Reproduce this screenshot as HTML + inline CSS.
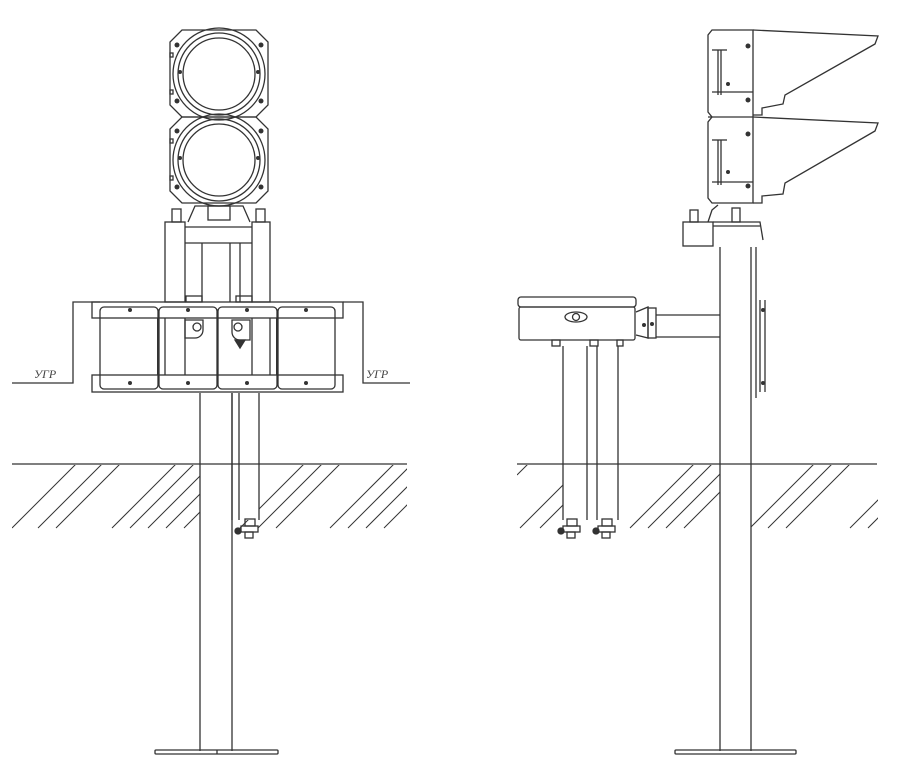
<!DOCTYPE html>
<html><head><meta charset="utf-8"><style>
html,body{margin:0;padding:0;background:#fff;}
svg{display:block;}
</style></head><body>
<svg width="900" height="779" viewBox="0 0 900 779" xmlns="http://www.w3.org/2000/svg" fill="none" stroke="#333" stroke-width="1.3">
<defs>
<clipPath id="hl"><rect x="12" y="465" width="395" height="64"/></clipPath>
<clipPath id="hr"><rect x="517" y="465" width="361" height="64"/></clipPath>
</defs>

<!-- ===== LEFT VIEW ===== -->
<!-- ground line -->
<line x1="12" y1="464" x2="407" y2="464"/>
<g clip-path="url(#hl)" stroke-width="1">
<line x1="12" y1="528" x2="76" y2="464"/><line x1="38" y1="528" x2="102" y2="464"/><line x1="56" y1="528" x2="120" y2="464"/>
<line x1="112" y1="528" x2="176" y2="464"/><line x1="130" y1="528" x2="194" y2="464"/><line x1="148" y1="528" x2="212" y2="464"/><line x1="166" y1="528" x2="230" y2="464"/><line x1="184" y1="528" x2="248" y2="464"/>
<line x1="240" y1="528" x2="304" y2="464"/><line x1="258" y1="528" x2="322" y2="464"/><line x1="276" y1="528" x2="340" y2="464"/>
<line x1="330" y1="528" x2="394" y2="464"/><line x1="348" y1="528" x2="412" y2="464"/><line x1="366" y1="528" x2="430" y2="464"/><line x1="384" y1="528" x2="448" y2="464"/>
</g>
<!-- white out pole & conduit region of hatch -->
<rect x="200" y="465" width="32" height="64" fill="#fff" stroke="none"/>
<rect x="232" y="465" width="27" height="55" fill="#fff" stroke="none"/>

<!-- pole -->
<line x1="200" y1="393" x2="200" y2="751"/><line x1="232" y1="393" x2="232" y2="751"/>
<rect x="155" y="750" width="123" height="4" rx="1"/>
<line x1="217" y1="750" x2="217" y2="754"/>
<!-- conduit -->
<line x1="239" y1="393" x2="239" y2="520"/><line x1="259" y1="393" x2="259" y2="520"/>
<line x1="232" y1="393" x2="232" y2="520"/>
<rect x="245" y="519" width="10" height="7"/><rect x="241" y="526" width="17" height="6"/><rect x="245" y="532" width="8" height="6"/>
<circle cx="238" cy="531" r="3" fill="#333"/>

<!-- wall step -->
<polyline points="12,383 73,383 73,302 100,302"/>
<polyline points="343,302 363,302 363,383 410,383"/>
<text x="34" y="378" font-family="Liberation Serif, serif" font-style="italic" font-size="12" fill="#444" stroke="none">УГР</text>
<text x="366" y="378" font-family="Liberation Serif, serif" font-style="italic" font-size="12" fill="#444" stroke="none">УГР</text>

<!-- box assembly -->
<rect x="92" y="302" width="251" height="16"/>
<rect x="92" y="375" width="251" height="17"/>
<rect x="100" y="307" width="58" height="82" rx="4"/>
<rect x="159" y="307" width="58" height="82" rx="4"/>
<rect x="218" y="307" width="59" height="82" rx="4"/>
<rect x="278" y="307" width="57" height="82" rx="4"/>
<g fill="#333" stroke="none">
<circle cx="130" cy="310" r="2"/><circle cx="188" cy="310" r="2"/><circle cx="247" cy="310" r="2"/><circle cx="306" cy="310" r="2"/>
<circle cx="130" cy="383" r="2"/><circle cx="188" cy="383" r="2"/><circle cx="247" cy="383" r="2"/><circle cx="306" cy="383" r="2"/>
</g>
<line x1="165" y1="318" x2="165" y2="375"/><line x1="185" y1="318" x2="185" y2="375"/>
<line x1="252" y1="318" x2="252" y2="375"/><line x1="270" y1="318" x2="270" y2="375"/>
<path d="M185,320 h18 v10 a8,8 0 0 1 -8,8 h-10 z"/>
<circle cx="197" cy="327" r="4"/>
<path d="M232,320 h18 v20 h-10 a8,8 0 0 1 -8,-8 z"/>
<circle cx="238" cy="327" r="4"/>
<path d="M235,340 h10 l-5,8 z" fill="#333"/>
<line x1="158" y1="318" x2="158" y2="375" stroke-width="2"/>
<line x1="277" y1="318" x2="277" y2="375" stroke-width="2"/>

<!-- support columns -->
<rect x="165" y="222" width="20" height="80"/>
<rect x="252" y="222" width="18" height="80"/>
<line x1="185" y1="227" x2="252" y2="227"/><line x1="185" y1="243" x2="252" y2="243"/>
<line x1="202" y1="243" x2="202" y2="302"/><line x1="230" y1="243" x2="230" y2="302"/><line x1="240" y1="243" x2="240" y2="302"/>
<rect x="186" y="296" width="16" height="6"/><rect x="236" y="296" width="16" height="6"/>
<!-- base bracket -->
<path d="M188,222 L195,206 L243,206 L250,222"/>
<rect x="208" y="206" width="22" height="14"/>
<rect x="172" y="209" width="9" height="13"/><rect x="256" y="209" width="9" height="13"/>

<!-- signal heads -->
<g>
<path d="M182,30 L256,30 L268,42 L268,105 L256,117 L182,117 L170,105 L170,42 Z"/>
<circle cx="219" cy="74" r="46"/>
<circle cx="219" cy="74" r="41"/>
<circle cx="219" cy="74" r="36"/>
<path d="M182,117 L256,117 L268,129 L268,191 L256,203 L182,203 L170,191 L170,129 Z"/>
<circle cx="219" cy="160" r="46"/>
<circle cx="219" cy="160" r="41"/>
<circle cx="219" cy="160" r="36"/>
<g fill="#333" stroke="none">
<circle cx="177" cy="45" r="2.5"/><circle cx="261" cy="45" r="2.5"/><circle cx="180" cy="72" r="2"/><circle cx="258" cy="72" r="2"/>
<circle cx="177" cy="101" r="2.5"/><circle cx="261" cy="101" r="2.5"/>
<circle cx="177" cy="131" r="2.5"/><circle cx="261" cy="131" r="2.5"/><circle cx="180" cy="158" r="2"/><circle cx="258" cy="158" r="2"/>
<circle cx="177" cy="187" r="2.5"/><circle cx="261" cy="187" r="2.5"/>
</g>
<rect x="170" y="53" width="3" height="4"/><rect x="170" y="90" width="3" height="4"/>
<rect x="170" y="139" width="3" height="4"/><rect x="170" y="176" width="3" height="4"/>
</g>

<!-- ===== RIGHT VIEW ===== -->
<line x1="517" y1="464" x2="877" y2="464"/>
<g clip-path="url(#hr)" stroke-width="1">
<line x1="517" y1="475" x2="528" y2="464"/><line x1="520" y1="528" x2="584" y2="464"/><line x1="540" y1="528" x2="604" y2="464"/>
<line x1="630" y1="528" x2="694" y2="464"/><line x1="648" y1="528" x2="712" y2="464"/><line x1="666" y1="528" x2="730" y2="464"/><line x1="684" y1="528" x2="748" y2="464"/>
<line x1="750" y1="528" x2="814" y2="464"/><line x1="768" y1="528" x2="832" y2="464"/><line x1="786" y1="528" x2="850" y2="464"/>
<line x1="850" y1="528" x2="914" y2="464"/><line x1="868" y1="528" x2="932" y2="464"/>
</g>
<rect x="720" y="465" width="31" height="64" fill="#fff" stroke="none"/>
<rect x="563" y="465" width="56" height="56" fill="#fff" stroke="none"/>

<!-- pole -->
<line x1="720" y1="247" x2="720" y2="751"/><line x1="751" y1="247" x2="751" y2="751"/>
<rect x="675" y="750" width="121" height="4" rx="1"/>
<!-- side cable -->
<line x1="756" y1="247" x2="756" y2="398"/><line x1="760" y1="300" x2="760" y2="392"/><line x1="765" y1="300" x2="765" y2="392"/>
<circle cx="763" cy="310" r="2" fill="#333" stroke="none"/><circle cx="763" cy="383" r="2" fill="#333" stroke="none"/>

<!-- bracket -->
<rect x="683" y="222" width="30" height="24"/>
<path d="M708,222 L712,210 L718,205 M713,222 L760,222 L763,240"/>
<rect x="690" y="210" width="8" height="12"/><rect x="732" y="208" width="8" height="14"/>
<line x1="713" y1="226" x2="760" y2="226"/>

<!-- signal side body -->
<path d="M712,30 L753,30 L753,203 L712,203 L708,198 L708,122 L712,117 L708,112 L708,35 Z"/>
<line x1="708" y1="117" x2="753" y2="117"/>
<line x1="718" y1="50" x2="718" y2="95"/><line x1="721" y1="50" x2="721" y2="95"/>
<line x1="718" y1="140" x2="718" y2="185"/><line x1="721" y1="140" x2="721" y2="185"/>
<line x1="712" y1="50" x2="727" y2="50"/><line x1="712" y1="92" x2="753" y2="92"/>
<line x1="712" y1="140" x2="727" y2="140"/><line x1="712" y1="182" x2="753" y2="182"/>
<g fill="#333" stroke="none">
<circle cx="748" cy="46" r="2.5"/><circle cx="748" cy="100" r="2.5"/><circle cx="728" cy="84" r="2"/>
<circle cx="748" cy="134" r="2.5"/><circle cx="748" cy="186" r="2.5"/><circle cx="728" cy="172" r="2"/>
</g>
<!-- visors -->
<path d="M753,30 L878,36 L875,44 L785,95 L783,104 L762,108 L762,115 L753,115"/>
<path d="M753,117 L878,123 L875,131 L785,183 L783,194 L762,196 L762,203 L753,203"/>

<!-- cable box -->
<rect x="518" y="297" width="118" height="10" rx="3"/>
<rect x="519" y="307" width="116" height="33" rx="2"/>
<ellipse cx="576" cy="317" rx="11" ry="5"/>
<circle cx="576" cy="317" r="3.5"/>
<!-- arm -->
<path d="M636,312 L648,307 L648,338 L636,335"/>
<rect x="648" y="308" width="8" height="30"/>
<line x1="656" y1="315" x2="720" y2="315"/><line x1="656" y1="337" x2="720" y2="337"/>
<circle cx="644" cy="325" r="2" fill="#333" stroke="none"/><circle cx="652" cy="324" r="2" fill="#333" stroke="none"/>
<!-- tubes -->
<rect x="552" y="340" width="8" height="6"/><rect x="590" y="340" width="8" height="6"/><rect x="617" y="340" width="6" height="6"/>
<line x1="563" y1="346" x2="563" y2="520"/><line x1="587" y1="346" x2="587" y2="520"/>
<line x1="597" y1="346" x2="597" y2="520"/><line x1="618" y1="346" x2="618" y2="520"/>
<rect x="567" y="519" width="10" height="7"/><rect x="563" y="526" width="17" height="6"/><rect x="567" y="532" width="8" height="6"/>
<circle cx="561" cy="531" r="3" fill="#333"/>
<rect x="602" y="519" width="10" height="7"/><rect x="598" y="526" width="17" height="6"/><rect x="602" y="532" width="8" height="6"/>
<circle cx="596" cy="531" r="3" fill="#333"/>
</svg>
</body></html>
